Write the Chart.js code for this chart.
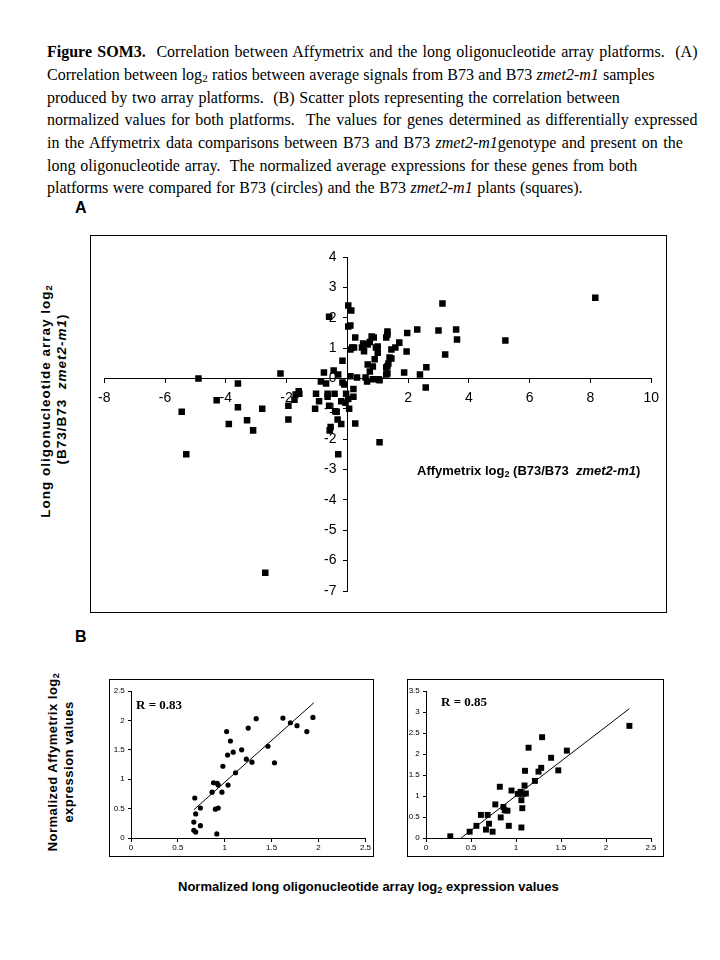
<!DOCTYPE html>
<html>
<head>
<meta charset="utf-8">
<script src="https://cdn.jsdelivr.net/npm/chart.js@4.4.0/dist/chart.umd.min.js"></script>
<style>
  body { margin: 0; background: #fff; width: 720px; height: 960px; position: relative; overflow: hidden; }
  .cap { position: absolute; left: 47px; font-family: "Liberation Serif", "Times New Roman", serif; font-size: 16px;
         line-height: 18px; white-space: nowrap; color: #000; }
  .cap sub, .t sub { font-size: 70%; vertical-align: -2px; line-height: 0; }
  .box { position: absolute; border: 1px solid #000; background: #fff; }
  .box canvas { display: block; }
  .t { position: absolute; font-family: "Liberation Sans", Arial, sans-serif; font-weight: bold; color: #000; white-space: nowrap; }
  .rot { transform: translate(-50%, -50%) rotate(-90deg); }
  .r { position: absolute; font-family: "Liberation Serif", "Times New Roman", serif; font-weight: bold; font-size: 13px; white-space: nowrap; }
</style>
</head>
<body>

<div class="cap" data-w="650" style="top:43px"><b>Figure SOM3.</b>&nbsp; Correlation between Affymetrix and the long oligonucleotide array platforms.&nbsp; (A)</div>
<div class="cap" data-w="608" style="top:66px">Correlation between log<sub>2</sub> ratios between average signals from B73 and B73 <i>zmet2-m1</i> samples</div>
<div class="cap" data-w="573" style="top:89px">produced by two array platforms.&nbsp; (B) Scatter plots representing the correlation between</div>
<div class="cap" data-w="650" style="top:111px">normalized values for both platforms.&nbsp; The values for genes determined as differentially expressed</div>
<div class="cap" data-w="636" style="top:134px">in the Affymetrix data comparisons between B73 and B73 <i>zmet2-m1</i>genotype and present on the</div>
<div class="cap" data-w="590" style="top:157px">long oligonucleotide array.&nbsp; The normalized average expressions for these genes from both</div>
<div class="cap" data-w="536" style="top:179px">platforms were compared for B73 (circles) and the B73 <i>zmet2-m1</i> plants (squares).</div>

<div class="t" style="left:75px;top:199px;font-size:16px">A</div>
<div class="t" style="left:75px;top:628px;font-size:16px">B</div>

<div class="box" style="left:90px;top:235px;width:575px;height:376px"><canvas id="chartA" width="575" height="376"></canvas></div>
<div class="t" style="left:417px;top:463px;font-size:13px">Affymetrix log<sub>2</sub> (B73/B73&nbsp; <i>zmet2-m1</i>)</div>
<div class="t rot" style="left:45px;top:401px;font-size:13.5px;letter-spacing:1px">Long oligonucleotide array log<sub>2</sub></div>
<div class="t rot" style="left:61px;top:389px;font-size:13.5px;letter-spacing:1px">(B73/B73&nbsp; <i>zmet2-m1</i>)</div>

<div class="box" style="left:109px;top:679px;width:263px;height:176px"><canvas id="chartB1" width="263" height="176"></canvas></div>
<div class="box" style="left:407px;top:679px;width:255px;height:176px"><canvas id="chartB2" width="255" height="176"></canvas></div>
<div class="r" style="left:136px;top:697px">R = 0.83</div>
<div class="r" style="left:441px;top:694px">R = 0.85</div>
<div class="t rot" style="left:52px;top:762px;font-size:13px;letter-spacing:0.5px">Normalized Affymetrix log<sub>2</sub></div>
<div class="t rot" style="left:68px;top:762px;font-size:13px;letter-spacing:0.5px">expression values</div>
<div class="t" style="left:178px;top:879px;font-size:13px">Normalized long oligonucleotide array log<sub>2</sub> expression values</div>

<script>
// stretch caption lines to the widths measured on the figure
document.querySelectorAll(".cap").forEach(function(el) {
  var target = +el.dataset.w;
  var spaces = (el.textContent.match(/[ \u00a0]/g) || []).length;
  var natural = el.offsetWidth;
  if (spaces > 0) el.style.wordSpacing = ((target - natural) / spaces) + "px";
});

// panel A: log2 ratios (x = Affymetrix, y = long oligo array)
var affyX = [-5.45, -5.3, -4.9, -4.3, -3.9, -3.6, -3.6, -3.3, -3.1, -2.8, -2.7, -2.2, -1.94, -1.94, -1.74, -1.7, -1.6, -1.58,
  -1.06, -1.03, -0.93, -0.87, -0.77, -0.7, -0.65, -0.65, -0.6, -0.6, -0.58, -0.55, -0.45, -0.42, -0.4, -0.35, -0.32, -0.3, -0.3,
  -0.2, -0.2, -0.16, -0.16, -0.1, -0.06, -0.04,
  0.03, 0.13, 0.03, 0.1, 0.26, 0.16, 0.22, 0.1, 0.32, 0.1, 0.03, 0.06, 0.2, 0.2, 0.26,
  0.48, 0.55, 0.52, 0.67, 0.8, 0.74, 0.94, 1.0, 0.9, 0.67, 0.74, 0.6, 0.84, 1.03, 0.65, 1.06, 1.06, 0.87, 1.0, 0.84,
  1.32, 1.32, 1.39, 1.45, 1.32, 1.32, 1.28, 1.28, 1.28, 1.35, 1.45, 1.58, 1.71, 1.95, 1.97, 1.87, 2.3, 2.39, 2.58, 2.6,
  3.0, 3.13, 3.22, 3.58, 3.61, 5.2, 8.16];
var longY = [-1.1, -2.5, 0.0, -0.72, -1.5, -0.17, -0.95, -1.38, -1.71, -1.0, -6.4, 0.16, -0.9, -1.35, -0.7, -0.53, -0.42, -0.5,
  -1.0, -0.5, -0.75, -0.1, 0.2, -0.17, -0.5, -0.6, 2.03, -0.9, -1.71, -1.6, 0.26, -0.5, -1.08, -1.1, -1.35, 0.13, -2.5,
  -0.75, -1.5, 0.58, -0.13, -0.2, -0.8, -0.5,
  2.4, 2.24, 1.71, 1.74, 1.35, 1.02, 1.02, 0.95, 0.03, 0.07, -0.68, -1.0, -0.6, -0.35, -1.48,
  1.02, 0.9, 1.15, 1.12, 1.38, 1.2, 1.02, 0.85, 0.63, 0.46, 0.23, 0.03, -0.03, -0.03, -0.1, -0.06, -2.1, 1.35, 1.05, 0.39,
  0.16, 0.4, 0.69, 0.95, 1.45, 1.55, 1.35, 0.36, 0.13, 0.49, 0.66, 1.02, 1.18, 0.89, 1.5, 0.2, 1.61, 0.13, -0.3, 0.37,
  1.58, 2.47, 0.79, 1.61, 1.28, 1.25, 2.66];

// panel B left: B73 (circles)
var b73X = [0.68, 0.69, 0.67, 0.67, 0.69, 0.74, 0.74, 0.865, 0.88, 0.92, 0.93, 0.90, 0.93, 0.915, 0.97, 0.98, 1.035, 1.03,
  1.02, 1.06, 1.09, 1.115, 1.18, 1.23, 1.25, 1.29, 1.335, 1.46, 1.53, 1.62, 1.70, 1.77, 1.875, 1.94];
var b73Y = [0.68, 0.41, 0.27, 0.13, 0.10, 0.51, 0.21, 0.78, 0.94, 0.93, 0.90, 0.49, 0.51, 0.07, 0.78, 1.22, 0.90, 1.41,
  1.81, 1.65, 1.46, 1.11, 1.50, 1.34, 1.87, 1.29, 2.03, 1.56, 1.28, 2.04, 1.96, 1.91, 1.81, 2.05];
var b73TrendX = [0.67, 1.95];
var b73TrendY = [0.48, 2.30];

// panel B right: B73 zmet2-m1 (squares)
var zmetX = [0.27, 0.485, 0.56, 0.61, 0.685, 0.666, 0.70, 0.74, 0.77, 0.82, 0.83, 0.86, 0.875, 0.905, 0.92, 0.95, 1.02,
  1.05, 1.06, 1.07, 1.06, 1.08, 1.095, 1.11, 1.10, 1.14, 1.21, 1.25, 1.28, 1.29, 1.39, 1.47, 1.565, 2.26];
var zmetY = [0.04, 0.15, 0.29, 0.55, 0.55, 0.20, 0.34, 0.15, 0.80, 1.22, 0.49, 0.74, 0.66, 0.65, 0.29, 1.13, 1.05,
  1.10, 0.90, 0.71, 0.25, 1.05, 1.25, 1.06, 1.60, 2.15, 1.36, 1.58, 1.67, 2.40, 1.91, 1.61, 2.08, 2.67];
var zmetTrendX = [0.39, 2.26];
var zmetTrendY = [0.0, 3.08];

Chart.defaults.font.family = "'Liberation Sans', Arial, sans-serif";
Chart.defaults.color = "#000";
Chart.defaults.animation = false;

function pairs(xs, ys) {
  var out = [];
  for (var i = 0; i < xs.length; i++) out.push({x: xs[i], y: ys[i]});
  return out;
}

// axes sit on the other axis' zero line, so they take no layout room
// (y labels of such an axis get no padding, hence the trailing gap string)
function axis(min, max, step, fontSize, tickLen, pad, pos, hideZero, gap) {
  return {
    type: "linear",
    min: min, max: max,
    position: pos,
    ticks: {
      stepSize: step, autoSkip: false, padding: pad, color: "#000",
      font: {size: fontSize},
      callback: function(v) { return (hideZero && v === 0) ? "" : v + (gap || ""); }
    },
    grid: {display: true, drawOnChartArea: false, drawTicks: true, tickLength: tickLen, color: "#000"},
    border: {display: true, color: "#000", width: 1}
  };
}

new Chart(document.getElementById("chartA"), {
  type: "scatter",
  data: {
    datasets: [{
      data: pairs(affyX, longY),
      pointStyle: "rect", pointRadius: 4.6, pointHoverRadius: 4.6,
      backgroundColor: "#000", borderColor: "#000", borderWidth: 0
    }]
  },
  options: {
    responsive: false,
    layout: {padding: {left: 3, right: 14, top: 21, bottom: 21}},
    plugins: {legend: {display: false}, tooltip: {enabled: false}},
    scales: {
      x: axis(-8, 10, 2, 14, 4, 7, {y: 0}, true),
      y: axis(-7, 4, 1, 14, 4, 0, {x: 0}, false, "\u2002 ")
    }
  }
});

function smallChart(id, xs, ys, tx, ty, style, radius, yMax, pad) {
  new Chart(document.getElementById(id), {
    type: "scatter",
    data: {
      datasets: [{
        data: pairs(xs, ys),
        pointStyle: style, pointRadius: radius, pointHoverRadius: radius,
        backgroundColor: "#000", borderColor: "#000", borderWidth: 0
      }, {
        data: pairs(tx, ty),
        showLine: true, pointRadius: 0, borderColor: "#000", borderWidth: 1
      }]
    },
    options: {
      responsive: false,
      layout: {padding: pad},
      plugins: {legend: {display: false}, tooltip: {enabled: false}},
      scales: {
        x: axis(0, 2.5, 0.5, 8, 3, 2, {y: 0}, false),
        y: axis(0, yMax, 0.5, 8, 3, 0, {x: 0}, false, "\u2002 ")
      }
    }
  });
}

smallChart("chartB1", b73X, b73Y, b73TrendX, b73TrendY, "circle", 2.6, 2.5, {left: 21, right: 6, top: 11, bottom: 18});
smallChart("chartB2", zmetX, zmetY, zmetTrendX, zmetTrendY, "rect", 4.2, 3.5, {left: 18, right: 12, top: 11, bottom: 18});
</script>
</body>
</html>
